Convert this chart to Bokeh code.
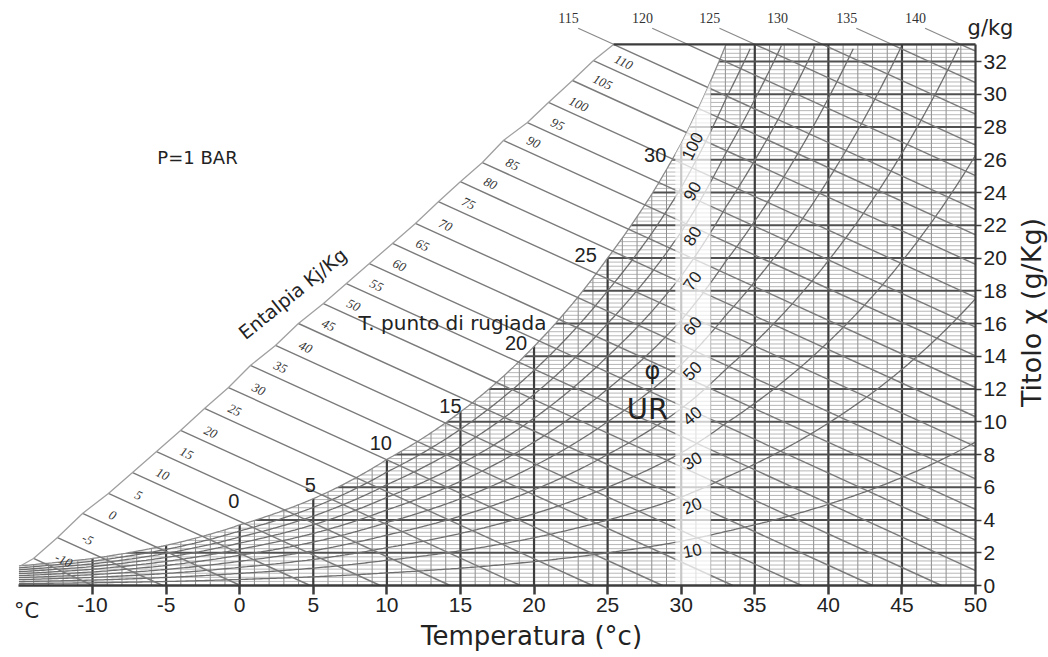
import numpy as np
from bokeh.plotting import figure
from bokeh.models import Range1d, FixedTicker, Label, ColumnDataSource
from bokeh.core.properties import value
from bokeh.embed import file_html
from bokeh.resources import INLINE

# ---------------- data ----------------
x_ticks = [-10, -5, 0, 5, 10, 15, 20, 25, 30, 35, 40, 45, 50]
y_ticks = [0, 2, 4, 6, 8, 10, 12, 14, 16, 18, 20, 22, 24, 26, 28, 30, 32]

# saturation curve (humidity ratio g/kg at temperature °C)
sat_t = [-15, -10, -5, 0, 5, 10, 15, 20, 25, 28, 30, 31.3, 33.05, 35, 40, 45, 50]
sat_x = [1.2, 1.65, 2.45, 3.7, 5.3, 7.7, 10.6, 14.6, 20.0, 23.9, 27.0, 29.4, 33.05, 37.1, 49.6, 66.0, 87.6]

# enthalpy lines (kJ/kg): start point on the enthalpy scale
enth_vals = [-10, -5, 0, 5, 10, 15, 20, 25, 30, 35, 40, 45, 50, 55, 60, 65, 70, 75, 80, 85, 90, 95, 100, 105, 110, 115]
enth_t0 = [-14.01, -12.38, -10.68, -8.92, -7.28, -5.65, -4.02, -2.39, -0.76, 0.73, 2.43, 3.99, 5.69,
           7.25, 8.81, 10.38, 11.94, 13.50, 14.99, 16.49, 17.92, 19.55, 20.98, 22.61, 24.04, 25.40]
enth_x0 = [1.65, 2.93, 4.40, 5.62, 6.90, 8.18, 9.47, 10.81, 12.09, 13.44, 14.66, 16.00, 17.22,
           18.44, 19.66, 20.89, 22.11, 23.44, 24.66, 25.83, 27.18, 28.27, 29.50, 30.84, 32.06, 33.04]
# enthalpy lines starting on the top edge
enth_top_vals = [120, 125, 130, 135, 140]
enth_top_t = [30.43, 35.0, 39.6, 44.3, 48.97]

rh_vals = [10, 20, 30, 40, 50, 60, 70, 80, 90]
rh_label_vals = [10, 20, 30, 40, 50, 60, 70, 80, 90, 100]
dew_vals = [0, 5, 10, 15, 20, 25, 30]
scale_origin = (-14.85, 1.22)

# ---------------- layout constants ----------------
T_MIN, T_MAX, X_TOP = -15.0, 50.0, 33.05
PX_T, PX_X = 14.717, 16.375          # pixels per °C and per g/kg
T0_PX, X0_PX = 239.2, 585.0          # pixel position of 0 °C and 0 g/kg
W, H = 1048, 657
ENTH_SLOPE = -0.41
WORD_FONT = "DejaVu Sans"
NUM_FONT = "Liberation Sans"
GRID_C = "#9a9a9a"
DARK = "#3c3c3c"


def tx(px):
    return (px - T0_PX) / PX_T


def xy(py):
    return (X0_PX - py) / PX_X


def sat_at(t):
    return np.exp(np.interp(t, sat_t, np.log(sat_x)))


p = figure(width=W, height=H, x_range=Range1d(tx(0), tx(W)), y_range=Range1d(xy(H), xy(0)),
           output_backend="svg", toolbar_location=None, y_axis_location="right",
           min_border_left=0, min_border_right=0, min_border_top=0, min_border_bottom=0)
p.grid.visible = False
p.outline_line_color = None
p.background_fill_color = "white"
p.border_fill_color = "white"

# axes (fixed inside the frame)
p.xaxis.fixed_location = 0
p.xaxis.bounds = (T_MIN, T_MAX)
p.xaxis.ticker = FixedTicker(ticks=x_ticks)
p.xaxis.major_label_overrides = {t: str(t) for t in x_ticks}
p.xaxis.major_label_text_font = NUM_FONT
p.xaxis.major_label_text_font_size = "21px"
p.xaxis.major_label_text_color = "#222"
p.xaxis.major_tick_out = 9
p.xaxis.major_tick_in = 0
p.xaxis.major_tick_line_width = 2.5
p.xaxis.major_tick_line_color = DARK
p.xaxis.minor_tick_line_color = None
p.xaxis.axis_line_width = 2.5
p.xaxis.axis_line_color = DARK
p.xaxis.major_label_standoff = 3

p.yaxis.fixed_location = T_MAX
p.yaxis.bounds = (0, X_TOP)
p.yaxis.ticker = FixedTicker(ticks=y_ticks)
p.yaxis.major_label_text_font = NUM_FONT
p.yaxis.major_label_text_font_size = "21px"
p.yaxis.major_label_text_color = "#222"
p.yaxis.major_tick_out = 6
p.yaxis.major_tick_in = 0
p.yaxis.major_tick_line_width = 1.5
p.yaxis.major_tick_line_color = DARK
p.yaxis.minor_tick_line_color = None
p.yaxis.axis_line_color = DARK
p.yaxis.axis_line_width = 2.2
p.yaxis.major_label_standoff = 2

# ---------------- grid ----------------
t_minor = [t for t in range(int(T_MIN), int(T_MAX)) if t % 5 != 0]
p.segment(x0=t_minor, y0=0, x1=t_minor, y1=X_TOP, line_color="#8c8c8c", line_width=1)
x_minor = [v for v in np.arange(0.25, X_TOP, 0.25) if abs(v / 2 - round(v / 2)) > 1e-6]
p.segment(x0=T_MIN, y0=x_minor, x1=T_MAX, y1=x_minor, line_color=GRID_C, line_width=0.9, line_alpha=0.8)
t_major = [t for t in x_ticks if t < T_MAX]
p.segment(x0=t_major, y0=0, x1=t_major, y1=X_TOP, line_color=DARK, line_width=2.2)
x_major = [v for v in y_ticks if v > 0]
p.segment(x0=T_MIN, y0=x_major, x1=T_MAX, y1=x_major, line_color="#505050", line_width=2.2)

# relative humidity curves
tt = np.linspace(T_MIN, T_MAX, 400)
rh_xs, rh_ys = [], []
for rh in rh_vals:
    xx = rh / 100.0 * sat_at(tt)
    keep = xx <= X_TOP
    rh_xs.append(list(tt[keep]))
    rh_ys.append(list(xx[keep]))
p.multi_line(xs=rh_xs, ys=rh_ys, line_color="#6e6e6e", line_width=1.3)

# white mask above the saturation curve
t_top = float(np.interp(np.log(X_TOP), np.log(sat_x), sat_t))
ts = np.linspace(T_MIN, t_top, 300)
mask_x = list(ts) + [t_top, T_MIN - 1, T_MIN - 1]
mask_y = list(sat_at(ts)) + [X_TOP + 3, X_TOP + 3, float(sat_at(T_MIN))]
p.patch(mask_x, mask_y, fill_color="white", line_color=None)
p.line(ts, sat_at(ts), line_color="#8a8a8a", line_width=1.3)


# enthalpy lines
def enth_end(t0, x0):
    t1 = min(T_MAX, t0 + x0 / -ENTH_SLOPE)
    return t1, x0 + ENTH_SLOPE * (t1 - t0)


e_x0, e_y0, e_x1, e_y1 = [], [], [], []
for t0, x0 in list(zip(enth_t0, enth_x0)) + [(t, X_TOP) for t in enth_top_t]:
    t1, x1 = enth_end(t0, x0)
    e_x0.append(t0); e_y0.append(x0); e_x1.append(t1); e_y1.append(x1)
p.segment(x0=e_x0, y0=e_y0, x1=e_x1, y1=e_y1, line_color="#7a7a7a", line_width=1.4)

# leaders for top enthalpy labels
lead_t = [enth_t0[-1]] + enth_top_t
lead_dx = 2.4
p.segment(x0=lead_t, y0=[X_TOP] * len(lead_t), x1=[t - lead_dx for t in lead_t],
          y1=[X_TOP - ENTH_SLOPE * lead_dx] * len(lead_t), line_color="#8a8a8a", line_width=1.2)

# enthalpy scale line
p.line([scale_origin[0]] + enth_t0, [scale_origin[1]] + enth_x0, line_color="#a0a0a0", line_width=1.3)

# strip for RH labels
t_s0, t_s1 = 29.6, 32.0
tsr = np.linspace(t_s1, t_s0, 40)
p.patch([t_s0, t_s1] + list(tsr), [0, 0] + list(sat_at(tsr)), fill_color="white", fill_alpha=0.72, line_color=None)

# top border
p.segment(x0=[enth_t0[-1]], y0=[X_TOP], x1=[T_MAX], y1=[X_TOP], line_color=DARK, line_width=2.2)

# ---------------- texts ----------------
p.text(x=enth_t0[:-1], y=enth_x0[:-1], text=[str(v) for v in enth_vals[:-1]],
       x_offset=30, y_offset=2, angle=-0.45, text_align="center", text_baseline="middle",
       text_font=value("Liberation Serif"), text_font_style="italic", text_font_size="13px",
       text_color="#333")
top_lbl_t = [enth_t0[-1]] + enth_top_t
top_lbl_v = [enth_vals[-1]] + enth_top_vals
p.text(x=top_lbl_t, y=[X_TOP] * len(top_lbl_t), text=[str(v) for v in top_lbl_v],
       x_offset=-45, y_offset=-26, text_align="center", text_baseline="middle",
       text_font=value("Liberation Serif"), text_font_size="14px", text_color="#333")

dew_dx = [-6, -3, -6, -10, -18, -22, -26]
dew_dy = [-24, -14, -16, -6, -3, -3, 12]
dew_src = ColumnDataSource(dict(x=dew_vals, y=list(sat_at(np.array(dew_vals, dtype=float))),
                                t=[str(v) for v in dew_vals], dx=dew_dx, dy=dew_dy))
p.text(x="x", y="y", text="t", x_offset="dx", y_offset="dy", source=dew_src,
       text_align="center", text_baseline="middle", text_font=value(NUM_FONT),
       text_font_size="20px", text_color="#222")

t_lab = 30.75
sl = (np.log(sat_at(t_lab + 0.2)) - np.log(sat_at(t_lab - 0.2))) / 0.4 * sat_at(t_lab)
rh_ang = [float(np.arctan(r / 100 * sl * PX_X / PX_T)) for r in rh_label_vals]
rh_src = ColumnDataSource(dict(x=[t_lab] * len(rh_label_vals),
                               y=[r / 100 * float(sat_at(t_lab)) for r in rh_label_vals],
                               t=[str(r) for r in rh_label_vals], a=rh_ang,
                               dy=[10 + 0.15 * r for r in rh_label_vals]))
p.text(x="x", y="y", text="t", angle="a", y_offset="dy", source=rh_src,
       text_align="center", text_baseline="middle", text_font=value(NUM_FONT),
       text_font_size="17px", text_color="#222")

lbl_style = dict(text_font=WORD_FONT, text_color="#222", text_align="center", text_baseline="middle")
p.add_layout(Label(x=tx(452), y=xy(322), text="T. punto di rugiada", text_font_size="20px", **lbl_style))
p.add_layout(Label(x=tx(197), y=xy(157), text="P=1 BAR", text_font_size="18px", **lbl_style))
p.add_layout(Label(x=tx(292), y=xy(293), text="Entalpia Kj/Kg", angle=0.68, text_font_size="19px", **lbl_style))
p.add_layout(Label(x=tx(652), y=xy(370), text="φ", text_font_size="24px", **lbl_style))
p.add_layout(Label(x=tx(647), y=xy(408), text="UR", text_font_size="29px", **lbl_style))
p.add_layout(Label(x=tx(990), y=xy(27), text="g/kg", text_font_size="21px", **lbl_style))
p.add_layout(Label(x=tx(1031), y=xy(312), text="Titolo χ (g/Kg)", angle=np.pi / 2,
                   text_font_size="27px", **lbl_style))
p.add_layout(Label(x=tx(531), y=xy(635), text="Temperatura (°c)", text_font_size="26px", **lbl_style))
p.add_layout(Label(x=tx(26), y=xy(610), text="°C", text_font_size="21px", **lbl_style))

open("out.html", "w").write(file_html(p, INLINE))
